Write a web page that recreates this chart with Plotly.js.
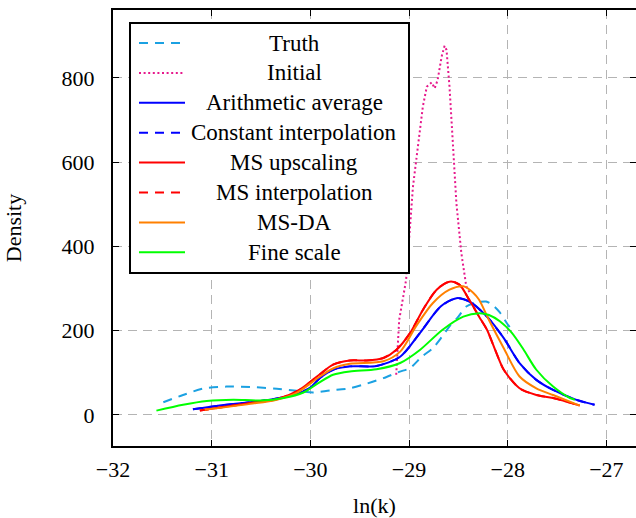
<!DOCTYPE html>
<html>
<head>
<meta charset="utf-8">
<script src="https://cdn.plot.ly/plotly-3.0.1.min.js"></script>
<style>html,body{margin:0;padding:0;background:#fff;}#chart{width:636px;height:518px;}</style>
</head>
<body>
<div id="chart"></div>
<script>
// ---- data ----
const seriesNames = ["Truth", "Initial", "Arithmetic average", "Constant interpolation",
  "MS upscaling", "MS interpolation", "MS-DA", "Fine scale"];

const truthX = [-31.49, -31.29, -31.09, -30.85, -30.61, -30.34, -30.14, -29.97, -29.80, -29.60, -29.43, -29.26, -29.10, -28.99, -28.87, -28.76, -28.67, -28.59, -28.50, -28.42, -28.32, -28.22, -28.15, -28.08, -28.01, -27.97];
const truthY = [30, 47, 62, 67, 66, 62, 57, 53, 58, 63, 74, 87, 102, 111, 138, 158, 184, 210, 233, 257, 266, 269, 260, 243, 218, 205];

const initialX = [-29.13, -29.10, -29.03, -28.99, -28.96, -28.91, -28.86, -28.82, -28.77, -28.74, -28.71, -28.67, -28.64, -28.62, -28.59, -28.56, -28.52, -28.47, -28.42, -28.38];
const initialY = [95, 225, 320, 447, 542, 637, 732, 779, 789, 775, 795, 850, 876, 866, 779, 661, 502, 384, 305, 288];

const arithX = [-31.19, -30.95, -30.61, -30.38, -30.18, -30.01, -29.90, -29.77, -29.60, -29.33, -29.09, -28.89, -28.68, -28.52, -28.39, -28.21, -28.04, -27.88, -27.71, -27.54, -27.31, -27.12];
const arithY = [13, 21, 30, 37, 47, 63, 88, 107, 115, 116, 138, 194, 257, 277, 269, 233, 182, 123, 83, 59, 36, 24];

const constInterpX = [-31.19, -30.95, -30.61, -30.38, -30.18, -30.01, -29.90, -29.77, -29.60, -29.33, -29.09, -28.89, -28.68, -28.52, -28.39, -28.21, -28.04, -27.88, -27.71, -27.54, -27.31, -27.12];
const constInterpY = [13, 21, 30, 37, 47, 63, 88, 107, 115, 116, 138, 194, 257, 277, 269, 233, 182, 123, 83, 59, 36, 24];

const msUpX = [-31.12, -30.87, -30.61, -30.34, -30.12, -29.91, -29.77, -29.60, -29.43, -29.26, -29.13, -28.99, -28.86, -28.72, -28.59, -28.49, -28.39, -28.29, -28.21, -28.12, -28.04, -27.88, -27.71, -27.54, -27.27];
const msUpY = [10, 19, 28, 37, 58, 95, 119, 129, 129, 135, 154, 194, 249, 297, 316, 309, 273, 233, 202, 150, 107, 63, 47, 40, 22];

const msInterpX = [-31.12, -30.87, -30.61, -30.34, -30.12, -29.91, -29.77, -29.60, -29.43, -29.26, -29.13, -28.99, -28.86, -28.72, -28.59, -28.49, -28.39, -28.29, -28.21, -28.12, -28.04, -27.88, -27.71, -27.54, -27.27];
const msInterpY = [10, 19, 28, 37, 58, 95, 119, 129, 129, 135, 154, 194, 249, 297, 316, 309, 273, 233, 202, 150, 107, 63, 47, 40, 22];

const msdaX = [-31.07, -30.61, -30.34, -30.14, -29.92, -29.77, -29.60, -29.26, -29.09, -28.93, -28.76, -28.59, -28.45, -28.35, -28.29, -28.19, -28.04, -27.88, -27.71, -27.54, -27.27];
const msdaY = [12, 26, 36, 52, 88, 110, 121, 127, 150, 210, 265, 297, 305, 290, 273, 225, 158, 91, 63, 47, 22];

const fineX = [-31.56, -31.29, -31.05, -30.78, -30.51, -30.27, -30.07, -29.92, -29.77, -29.60, -29.33, -29.09, -28.89, -28.66, -28.45, -28.29, -28.19, -28.08, -27.96, -27.84, -27.71, -27.54, -27.37, -27.32];
const fineY = [10, 24, 33, 36, 34, 40, 53, 75, 95, 103, 108, 123, 154, 202, 233, 241, 237, 222, 195, 155, 107, 67, 40, 36];

const xTickVals = [-32, -31, -30, -29, -28, -27];
const yTickVals = [0, 200, 400, 600, 800];

// ---- styles ----
const styles = [
  {color: '#1ba1e2', dash: '9px,7px', shape: 'spline'},
  {color: '#e6198c', dash: '2px,2.6px', shape: 'linear'},
  {color: '#0000ff', dash: 'solid', shape: 'spline'},
  {color: '#0000ff', dash: '9px,7px', shape: 'spline'},
  {color: '#ff0000', dash: 'solid', shape: 'spline'},
  {color: '#ff0000', dash: '9px,7px', shape: 'spline'},
  {color: '#ff8000', dash: 'solid', shape: 'spline'},
  {color: '#00ff00', dash: 'solid', shape: 'spline'}
];
const xs = [truthX, initialX, arithX, constInterpX, msUpX, msInterpX, msdaX, fineX];
const ys = [truthY, initialY, arithY, constInterpY, msUpY, msInterpY, msdaY, fineY];

const traces = seriesNames.map((name, i) => ({
  type: 'scatter', mode: 'lines', name: name,
  x: xs[i], y: ys[i],
  line: {color: styles[i].color, dash: styles[i].dash, width: 2, shape: styles[i].shape, smoothing: 0.8},
  showlegend: false, hoverinfo: 'skip'
}));

// ---- custom legend (centered text like the reference) ----
const plotTop = 10, plotBottom = 446, plotLeft = 113, plotRight = 636;
const ph = plotBottom - plotTop, pw = plotRight - plotLeft;
const px = v => (v - plotLeft) / pw;
const py = v => (plotBottom - v) / ph;
const shapes = [{
  type: 'rect', xref: 'paper', yref: 'paper',
  x0: px(130), x1: px(409), y0: py(273), y1: py(23),
  line: {color: '#000', width: 2}, fillcolor: '#fff', layer: 'above'
}];
const annotations = [];
seriesNames.forEach((name, i) => {
  const yy = 43 + i * 29.9;
  shapes.push({
    type: 'line', xref: 'paper', yref: 'paper',
    x0: px(139), x1: px(185), y0: py(yy), y1: py(yy),
    line: {color: styles[i].color, width: 2, dash: styles[i].dash}, layer: 'above'
  });
  annotations.push({
    xref: 'paper', yref: 'paper', x: px(294), y: py(yy),
    xanchor: 'center', yanchor: 'middle', showarrow: false,
    text: name, font: {family: 'Liberation Serif', size: 23, color: '#000'}
  });
});

const fontTick = {family: 'Liberation Serif', size: 22, color: '#000'};
const layout = {
  width: 636, height: 518,
  margin: {l: plotLeft, r: 636 - plotRight, t: plotTop, b: 518 - plotBottom},
  paper_bgcolor: '#fff', plot_bgcolor: '#fff',
  showlegend: false,
  xaxis: {
    range: [-32, -26.70], tickvals: xTickVals, ticks: 'inside', ticklen: 6, tickwidth: 1, tickcolor: '#000',
    showline: true, linewidth: 2, linecolor: '#000', mirror: 'ticks',
    showgrid: true, gridcolor: '#b4b4b4', gridwidth: 1, griddash: '9px,6px',
    zeroline: false, tickfont: fontTick, ticklabelstandoff: 3,
    title: {text: 'ln(k)', font: {family: 'Liberation Serif', size: 22, color: '#000'}, standoff: 16}
  },
  yaxis: {
    range: [-74, 961], tickvals: yTickVals, ticks: 'inside', ticklen: 6, tickwidth: 1, tickcolor: '#000',
    showline: true, linewidth: 2, linecolor: '#000', mirror: 'ticks',
    showgrid: true, gridcolor: '#b4b4b4', gridwidth: 1, griddash: '9px,6px',
    zeroline: false, tickfont: fontTick, ticklabelstandoff: 12,
    title: {text: 'Density', font: {family: 'Liberation Serif', size: 22, color: '#000'}, standoff: 34}
  },
  shapes: shapes,
  annotations: annotations
};

Plotly.newPlot('chart', traces, layout, {staticPlot: true, displayModeBar: false});
</script>
</body>
</html>
